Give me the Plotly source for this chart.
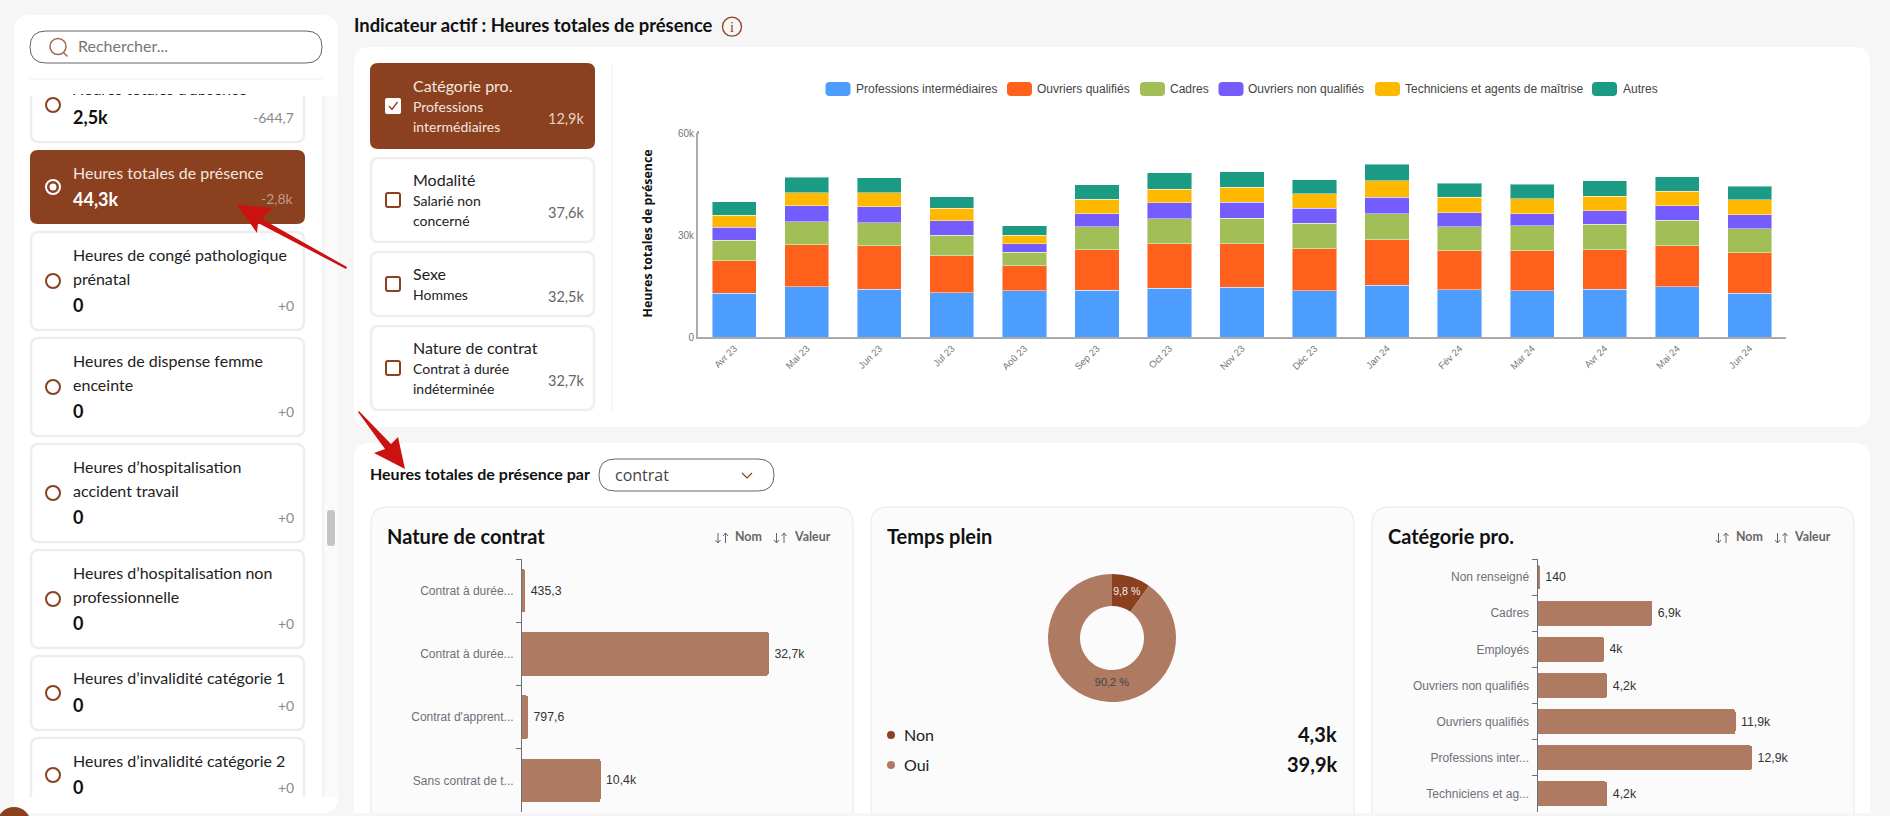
import plotly.graph_objects as go

# Stacked chart (hours, thousands)
months = ["Avr 23", "Mai 23", "Jun 23", "Jul 23", "Aoû 23", "Sep 23", "Oct 23", "Nov 23",
          "Déc 23", "Jan 24", "Fév 24", "Mar 24", "Avr 24", "Mai 24", "Jun 24"]
professions = [12.8, 14.8, 14.0, 13.0, 13.6, 13.8, 14.4, 14.6, 13.6, 15.2, 13.9, 13.6, 14.0, 14.8, 12.8]
ouvriers_q = [9.6, 12.3, 12.8, 10.9, 7.4, 11.9, 13.0, 12.8, 12.4, 13.4, 11.5, 11.8, 11.7, 12.1, 12.0]
cadres = [6.0, 6.8, 6.8, 6.1, 3.9, 6.7, 7.4, 7.5, 7.5, 7.7, 7.1, 7.3, 7.5, 7.5, 7.0]
ouvriers_nq = [3.9, 4.7, 4.7, 4.2, 2.5, 3.9, 4.7, 4.7, 4.3, 4.8, 4.0, 3.6, 3.9, 4.2, 4.2]
techniciens = [3.5, 3.8, 4.1, 3.6, 2.6, 4.2, 4.0, 4.4, 4.4, 4.9, 4.6, 4.4, 4.3, 4.3, 4.3]
autres = [4.0, 4.6, 4.5, 3.5, 2.7, 4.3, 4.8, 4.6, 4.1, 4.8, 4.1, 4.3, 4.5, 4.3, 4.0]
series_names = ["Professions intermédiaires", "Ouvriers qualifiés", "Cadres",
                "Ouvriers non qualifiés", "Techniciens et agents de maîtrise", "Autres"]
series_values = [professions, ouvriers_q, cadres, ouvriers_nq, techniciens, autres]
series_colors = ["#4D9DFF", "#FF611C", "#A1BE57", "#745CFF", "#FFB800", "#1B9B84"]

# Breakdown charts (zero-width space keeps the two truncated labels apart)
contrat_labels = ["Contrat à durée...", "Contrat à durée...\u200b", "Contrat d'apprent...", "Sans contrat de t..."]
contrat_values = [435.3, 32700, 797.6, 10400]
contrat_text = ["435,3", "32,7k", "797,6", "10,4k"]
categorie_labels = ["Non renseigné", "Cadres", "Employés", "Ouvriers non qualifiés",
                    "Ouvriers qualifiés", "Professions inter...", "Techniciens et ag..."]
categorie_values = [140, 6900, 4000, 4200, 11900, 12900, 4200]
categorie_text = ["140", "6,9k", "4k", "4,2k", "11,9k", "12,9k", "4,2k"]
temps_plein_labels = ["Non", "Oui"]
temps_plein_values = [4340, 39960]
temps_plein_text = ["9,8 %", "90,2 %"]
temps_plein_totals = ["4,3k", "39,9k"]

BROWN = "#8B4020"
TAUPE = "#AF7A62"
AXIS_GREY = "#6E7079"
W, H = 1890, 816

shapes = []
notes = []


def rrect(x0, y0, x1, y1, r, fill, line=None, width=1, layer="below"):
    path = (f"M{x0+r},{y0} L{x1-r},{y0} Q{x1},{y0} {x1},{y0+r} L{x1},{y1-r} Q{x1},{y1} {x1-r},{y1} "
            f"L{x0+r},{y1} Q{x0},{y1} {x0},{y1-r} L{x0},{y0+r} Q{x0},{y0} {x0+r},{y0} Z")
    shapes.append(dict(type="path", path=path, xref="x", yref="y", fillcolor=fill, layer=layer,
                       line=dict(color=line or "rgba(0,0,0,0)", width=width if line else 0)))


def circle(cx, cy, r, fill, line=None, width=1, layer="below"):
    shapes.append(dict(type="circle", x0=cx-r, x1=cx+r, y0=cy-r, y1=cy+r, xref="x", yref="y",
                       fillcolor=fill, layer=layer,
                       line=dict(color=line or "rgba(0,0,0,0)", width=width if line else 0)))


def poly(path, fill=None, line=None, width=1, layer="below"):
    shapes.append(dict(type="path", path=path, xref="x", yref="y", layer=layer,
                       fillcolor=fill or "rgba(0,0,0,0)",
                       line=dict(color=line or "rgba(0,0,0,0)", width=width if line else 0)))


def label(x, y, text, size=16, color="#222222", family="Lato", anchor="left", weight=400, angle=0):
    # annotations sit about 1px inside their anchor; Lato also rides low in its box
    if angle == 0:
        x += {"left": -1, "right": 1, "center": 0}[anchor]
    if family == "Lato":
        y -= 0.09 * size
    notes.append(dict(x=x, y=y, xref="x", yref="y", text=text, showarrow=False, xanchor=anchor,
                      yanchor="middle", borderpad=0, textangle=angle,
                      font=dict(family=family, size=size, color=color, weight=weight)))


def sort_arrows(x):
    # thin down and up arrows in front of Nom / Valeur
    poly(f"M{x+2.5},533 L{x+2.5},543 M{x},540 L{x+2.5},543 L{x+5},540", line="#666666", width=1)
    poly(f"M{x+10},533 L{x+10},543 M{x+7.5},536 L{x+10},533 L{x+12.5},536", line="#666666", width=1)


# Left panel
rrect(14, 15, 338, 813, 16, "#FFFFFF")
shapes.append(dict(type="rect", x0=323, x1=338, y0=96, y1=797, xref="x", yref="y", layer="below",
                   fillcolor="#FAFAFA", line=dict(color="rgba(0,0,0,0)", width=0)))
poly("M323,96 L323,797", line="#E8E8E8", width=1)
rrect(327, 510, 335, 546, 3, "#C4C4C4")

list_cards = [
    (68, 142, 105, [], "2,5k", 119, "-644,7"),
    (232, 330, 281, [("Heures de congé pathologique", 256), ("prénatal", 280)], "0", 307, "+0"),
    (338, 436, 387, [("Heures de dispense femme", 362), ("enceinte", 386)], "0", 413, "+0"),
    (444, 542, 493, [("Heures d’hospitalisation", 468), ("accident travail", 492)], "0", 519, "+0"),
    (550, 648, 599, [("Heures d’hospitalisation non", 574), ("professionnelle", 598)], "0", 625, "+0"),
    (656, 730, 693, [("Heures d’invalidité catégorie 1", 679)], "0", 707, "+0"),
    (738, 812, 775, [("Heures d’invalidité catégorie 2", 762)], "0", 789, "+0"),
]
for top, bottom, radio_y, lines, value, value_y, delta in list_cards:
    rrect(31, top, 304, bottom, 8, "#FFFFFF", "#EEEEEE", 2.5)
    circle(53, radio_y, 7, "#FFFFFF", BROWN, 2)
    for text, y in lines:
        label(73, y, text, 16)
    label(73, value_y, value, 18, "#111111", weight=700)
    label(294, value_y, delta, 14, "#8A8A8A", anchor="right")

# Active card
rrect(30, 150, 305, 224, 8, BROWN)
circle(53, 187, 7, "rgba(0,0,0,0)", "#FFFFFF", 2)
circle(53, 187, 3.5, "#FFFFFF")
label(73, 174, "Heures totales de présence", 16, "#F3E6DF")
label(73, 201, "44,3k", 18, "#FFFFFF", weight=700)
label(294, 200, "-2,8k", 14, "#C09A88", anchor="right")

# Covers so the list looks clipped under the search box and at the panel bottom
shapes.append(dict(type="rect", x0=14, x1=338, y0=30, y1=96, xref="x", yref="y", layer="below",
                   fillcolor="#FFFFFF", line=dict(color="rgba(0,0,0,0)", width=0)))
poly("M14,797 L338,797 L338,797 Q338,813 322,813 L30,813 Q14,813 14,797 Z", fill="#FFFFFF")
rrect(30, 31, 322, 63, 16, "#FFFFFF", "#666666", 1)
circle(58, 46.5, 8, "rgba(0,0,0,0)", "#A0694C", 1.5)
poly("M63.5,52.5 L67.5,56.5", line="#A0694C", width=1.5)
label(78, 47, "Rechercher...", 16, "#777777")
poly("M30,79 L322,79", line="#EEEEEE", width=1)

# Header
label(354, 27, "Indicateur actif : Heures totales de présence", 18.4, "#111111", weight=700)
circle(732, 26.7, 9.5, "rgba(0,0,0,0)", BROWN, 1.3)
label(732, 27.5, "i", 14, BROWN, "Liberation Serif", "center", 400)

# Top card with the selectors
rrect(354, 47, 1870, 427, 16, "#FFFFFF")
poly("M612,63 L612,411", line="#EEEEEE", width=1)
selector_cards = [
    (63, 149, 106, "Catégorie pro.", 87, [("Professions", 108), ("intermédiaires", 128)], "12,9k", 119.5),
    (157, 243, 200, "Modalité", 181, [("Salarié non", 202), ("concerné", 222)], "37,6k", 213.5),
    (251, 317, 284, "Sexe", 275, [("Hommes", 296)], "32,5k", 297.5),
    (325, 411, 368, "Nature de contrat", 349, [("Contrat à durée", 370), ("indéterminée", 390)], "32,7k", 381.5),
]
for i, (top, bottom, check_y, title, title_y, subs, value, value_y) in enumerate(selector_cards):
    active = i == 0
    if active:
        rrect(370, top, 595, bottom, 8, BROWN)
        rrect(385, check_y-8, 401, check_y+8, 2, "#FFFFFF")
        poly(f"M389,{check_y} L392,{check_y+3.5} L397.5,{check_y-4}", line=BROWN, width=1.3)
    else:
        rrect(371, top+1, 594, bottom-1, 8, "#FFFFFF", "#EEEEEE", 2.5)
        rrect(386, check_y-7, 400, check_y+7, 2, "#FFFFFF", BROWN, 2)
    label(413, title_y, title, 16, "#F3E6DF" if active else "#222222")
    for text, y in subs:
        label(413, y, text, 14, "#F3E6DF" if active else "#222222")
    label(585, value_y, value, 14.5, "#E6D0C4" if active else "#666666", anchor="right")

# Legend of the stacked chart
legend_x = [(825.5, 856), (1007, 1037), (1140, 1170), (1218.5, 1248), (1375, 1405), (1592, 1623)]
for (sw, tx), name, color in zip(legend_x, series_names, series_colors):
    rrect(sw, 82, sw+25, 96, 4, color)
    label(tx, 89, name, 12, "#444444", "Liberation Sans")
label(646.5, 234, "Heures totales de présence", 12.4, "#111111", "Open Sans", "center", 700, -90)
poly("M698,131 L698,134", line="#AAAAAA", width=2)

# Bottom card
rrect(354, 443, 1870, 840, 16, "#FFFFFF")
label(370, 475, "Heures totales de présence par", 16, "#111111", weight=700)
rrect(599, 459, 774, 491, 16, "#FFFFFF", "#666666", 1)
label(615, 475, "contrat", 16, "#444444", "Open Sans")
poly("M742,473 L747,478 L752,473", line=BROWN, width=1.2)
for x0, x1 in [(371, 853), (871, 1354), (1372, 1854)]:
    rrect(x0, 507, x1, 840, 16, "#FBFBFB", "#E8E8E8", 1)
label(387, 538, "Nature de contrat", 20, "#111111", weight=700)
label(887, 538, "Temps plein", 20, "#111111", weight=700)
label(1388, 538, "Catégorie pro.", 20, "#111111", weight=700)
for arrow1, nom, arrow2, valeur in [(715.5, 735, 774, 794), (1716, 1736, 1775, 1794)]:
    sort_arrows(arrow1)
    label(nom, 538, "Nom", 12.4, "#666666", weight=700)
    sort_arrows(arrow2)
    label(valeur, 538, "Valeur", 12.4, "#666666", weight=700)

# Donut legend
for name, total, color, y in zip(temps_plein_labels, temps_plein_totals, [BROWN, TAUPE], [735, 765]):
    circle(891, y, 4, color)
    label(904, y+1, name, 16, "#222222")
    label(1337, y+1, total, 20, "#111111", anchor="right", weight=700)

# Page bottom strip and red arrows
shapes.append(dict(type="rect", x0=0, x1=1890, y0=813, y1=816, xref="x", yref="y", layer="above",
                   fillcolor="#F6F6F6", line=dict(color="rgba(0,0,0,0)", width=0)))
circle(14, 824, 17, BROWN, layer="above")
poly("M237,205 L272,208 L262,219 L347,267 L346,269 L258,223 L257,233 Z", fill="#CC1111", layer="above")
poly("M405,469 L374,453 L385,449 L358,412 L359,411 L391,444 L398,437 Z", fill="#CC1111", layer="above")

fig = go.Figure()

# Invisible trace so the pixel overlay axes come first and stay underneath the charts
fig.add_trace(go.Scatter(x=[0], y=[0], mode="none", xaxis="x", yaxis="y", hoverinfo="skip"))

for name, values, color in zip(series_names, series_values, series_colors):
    fig.add_trace(go.Bar(x=months, y=values, name=name, xaxis="x2", yaxis="y2",
                         marker=dict(color=color, line=dict(color="rgba(255,255,255,0.45)", width=1))))

# thin space in front of the outside labels, the original has a wider gap
fig.add_trace(go.Bar(y=contrat_labels, x=contrat_values, orientation="h", xaxis="x3", yaxis="y3", width=0.69,
                     text=["\u2009" + t for t in contrat_text], textposition="outside", cliponaxis=False,
                     textfont=dict(family="Liberation Sans", size=12.3, color="#333333"),
                     marker=dict(color=TAUPE, cornerradius=3)))
fig.add_trace(go.Bar(y=categorie_labels, x=categorie_values, orientation="h", xaxis="x4", yaxis="y4", width=0.69,
                     text=["\u2009" + t for t in categorie_text], textposition="outside", cliponaxis=False,
                     textfont=dict(family="Liberation Sans", size=12.3, color="#333333"),
                     marker=dict(color=TAUPE, cornerradius=3)))

fig.add_trace(go.Pie(labels=temps_plein_labels, values=temps_plein_values, text=temps_plein_text,
                     textinfo="text", textposition="inside", insidetextorientation="horizontal",
                     hole=0.5, sort=False, direction="clockwise", rotation=0,
                     marker=dict(colors=[BROWN, TAUPE]),
                     textfont=dict(family="Liberation Sans", size=11, color=["#EEEEEE", "#444444"]),
                     domain=dict(x=[1048/W, 1176/W], y=[1-702/H, 1-574/H])))

# Card title cut by the list scroll position
fig.add_trace(go.Scatter(x=[72], y=[91], mode="text", text=["Heures totales d’absence"],
                         textposition="middle right", cliponaxis=True, xaxis="x5", yaxis="y5",
                         textfont=dict(family="Lato", size=16, color="#222222"), hoverinfo="skip"))

hidden = dict(visible=False, fixedrange=True)
band_axis = dict(type="category", autorange=False, tickson="boundaries", ticks="outside", ticklen=5,
                 tickcolor=AXIS_GREY, showline=True, linecolor=AXIS_GREY, linewidth=1, showgrid=False,
                 ticklabelstandoff=5,
                 tickfont=dict(family="Liberation Sans", size=12, color=AXIS_GREY), fixedrange=True)

fig.update_layout(
    template="none",
    width=W, height=H, margin=dict(l=0, r=0, t=0, b=0), autosize=False,
    paper_bgcolor="#F6F6F6", plot_bgcolor="rgba(0,0,0,0)",
    barmode="stack", showlegend=False, bargap=0.39, shapes=shapes, annotations=notes,
    xaxis=dict(domain=[0, 1], anchor="y", range=[0, W], **hidden),
    yaxis=dict(domain=[0, 1], anchor="x", range=[H, 0], **hidden),
    xaxis2=dict(domain=[698/W, 1786/W], anchor="y2", type="category", showline=True, linecolor="#AAAAAA",
                linewidth=2, ticks="", tickangle=-45, showgrid=False, fixedrange=True,
                tickfont=dict(family="Liberation Sans", size=9.6, color="#777777")),
    yaxis2=dict(domain=[1-337/H, 1-133/H], anchor="x2", range=[0, 60], tickvals=[0, 30, 60],
                ticktext=["0", "30k", "60k"], showline=True, linecolor="#AAAAAA", linewidth=2,
                showgrid=False, zeroline=False, fixedrange=True,
                tickfont=dict(family="Liberation Sans", size=10, color="#777777")),
    xaxis3=dict(domain=[522/W, 850/W], anchor="y3", range=[0, 43440], **hidden),
    yaxis3=dict(domain=[1-812/H, 1-559/H], anchor="x3", range=[3.5, -0.5], **band_axis),
    xaxis4=dict(domain=[1537.5/W, 1840/W], anchor="y4", range=[0, 18180], **hidden),
    yaxis4=dict(domain=[1-812/H, 1-559/H], anchor="x4", range=[6.5, -0.5], **band_axis),
    xaxis5=dict(domain=[30/W, 305/W], anchor="y5", range=[30, 305], **hidden),
    yaxis5=dict(domain=[1-797/H, 1-94/H], anchor="x5", range=[797, 94], **hidden),
)

fig.write_html("out.html", config=dict(displayModeBar=False),
               post_script="document.body.style.margin='0';document.documentElement.style.overflow='hidden';")
